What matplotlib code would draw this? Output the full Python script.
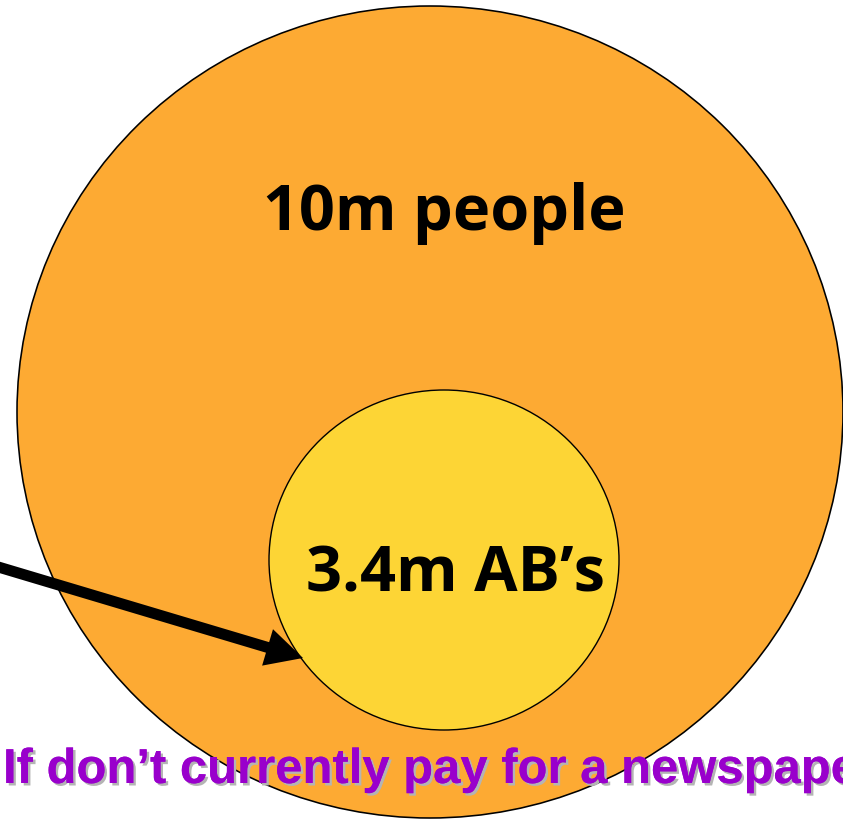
import matplotlib
matplotlib.use("Agg")
import matplotlib.pyplot as plt
from matplotlib.patches import Ellipse
import matplotlib.patheffects as pe

# Data
labels = ["10m people", "3.4m AB's"]
values = [10.0, 3.4]
caption = "If don\u2019t currently pay for a newspaper"

W, H = 843, 819
DPI = 72
fig = plt.figure(figsize=(W / DPI, H / DPI), dpi=DPI)
ax = fig.add_axes([0, 0, 1, 1])
ax.set_xlim(0, W)
ax.set_ylim(H, 0)
ax.axis("off")

orange = "#FDAA33"
yellow = "#FDD535"

big = Ellipse((430, 412), 826, 812, facecolor=orange, edgecolor="black", lw=1.6, zorder=1)
ax.add_patch(big)
small = Ellipse((444, 560), 350, 340, facecolor=yellow, edgecolor="black", lw=1.4, zorder=2)
ax.add_patch(small)

font = dict(family="Open Sans", weight="bold", color="black", fontsize=63)
ax.text(444, 230, labels[0].replace("'", "\u2019"), ha="center", va="baseline", zorder=5, **font)
ax.text(455, 592, labels[1].replace("'", "\u2019"), ha="center", va="baseline", zorder=5, **font)

# arrow
x0, y0 = -5, 566
x1, y1 = 303, 658
ax.arrow(x0, y0, x1 - x0, y1 - y0, width=11, head_width=38, head_length=37,
         length_includes_head=True, facecolor="black", edgecolor="none", zorder=4)

t = ax.text(3, 783, caption, ha="left", va="baseline", color="#9900CC",
            family="Liberation Sans", weight="bold", fontsize=49, zorder=6)
t.set_path_effects([pe.withSimplePatchShadow(offset=(2.5, -2.5), shadow_rgbFace="#B4B4B4", alpha=1.0),
                    pe.Normal()])

fig.savefig("out.png", dpi=DPI, facecolor="white")
